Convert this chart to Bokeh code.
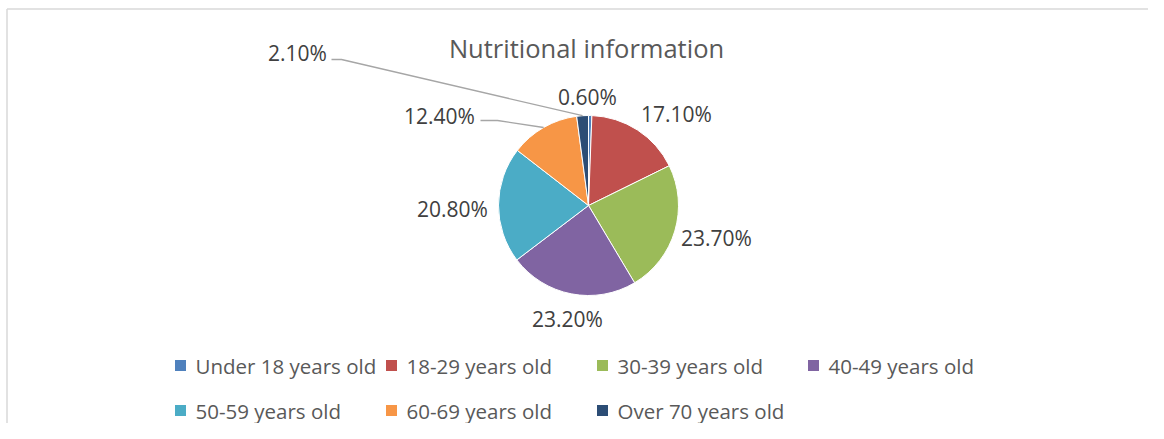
import math
from bokeh.plotting import figure
from bokeh.models import Range1d, ColumnDataSource
from bokeh.core.properties import value
from bokeh.embed import file_html
from bokeh.resources import INLINE

# ---- data ----
categories = ["Under 18 years old", "18-29 years old", "30-39 years old",
              "40-49 years old", "50-59 years old", "60-69 years old",
              "Over 70 years old"]
shares = [0.6, 17.1, 23.7, 23.2, 20.8, 12.4, 2.1]
labels = ["0.60%", "17.10%", "23.70%", "23.20%", "20.80%", "12.40%", "2.10%"]
colors = ["#4F81BD", "#C0504D", "#9BBB59", "#8064A2", "#4BACC6", "#F79646", "#2C4D75"]
title = "Nutritional information"

# ---- layout (reference pixels, y down) ----
W, H = 1148, 423
def X(px): return px
def Y(py): return H - py

cx, cy, R = 588, 205, 90
# label centre offsets from pie centre (px, y down)
label_off = [(-1, -109), (88, -92), (128, 32), (-21, 113), (-136, 3), (-149, -90), (-291, -153)]
# leader lines: index -> (start offset from label centre, elbow length)
leaders = {5: ((41, 5), 17), 6: ((34, 7), 10)}

p = figure(width=W, height=H, output_backend="svg", toolbar_location=None,
           x_range=Range1d(0, W), y_range=Range1d(0, H), min_border=0,
           outline_line_color=None, background_fill_color="white",
           border_fill_color="white")
p.axis.visible = False
p.grid.visible = False

# frame lines (left & top)
p.segment(x0=[X(6.5), X(6.5)], y0=[Y(H), Y(8.5)], x1=[X(6.5), X(W)], y1=[Y(8.5), Y(8.5)],
          line_color="#d9d9d9", line_width=1.5)

# pie
total = sum(shares)
starts, ends, mids = [], [], []
c = 0.0
for v in shares:
    a0 = math.pi / 2 - c / total * 2 * math.pi
    c += v
    a1 = math.pi / 2 - c / total * 2 * math.pi
    starts.append(a0); ends.append(a1); mids.append((a0 + a1) / 2)
src = ColumnDataSource(dict(start=starts, end=ends, color=colors, cat=categories, val=shares))
p.wedge(x=X(cx), y=Y(cy), radius=R, start_angle="start", end_angle="end",
        direction="clock", fill_color="color", line_color="white", line_width=1, source=src)

# leader lines
for i, ((sx, sy), el) in leaders.items():
    lx, ly = cx + label_off[i][0], cy + label_off[i][1]
    x0, y0 = lx + sx, ly + sy
    ex = cx + R * math.cos(mids[i])
    ey = cy - R * math.sin(mids[i])
    p.line([X(x0), X(x0 + el), X(ex)], [Y(y0), Y(y0), Y(ey)],
           line_color="#a6a6a6", line_width=1.3)

# data labels
p.text(x=[X(cx + o[0]) for o in label_off], y=[Y(cy + o[1]) for o in label_off],
       text=labels, text_font=value("Open Sans"), text_font_size="21px",
       text_color="#404040", text_align="center", text_baseline="middle")

# title
p.text(x=[X(586)], y=[Y(47)], text=[title], text_font=value("Open Sans"),
       text_font_size="25.5px", text_color="#595959", text_align="center",
       text_baseline="middle")

# legend
lx0, lcol, ly0, lrow, ncol = 180, 211, 365, 45, 4
sq_x = [X(lx0 + (i % ncol) * lcol) for i in range(len(categories))]
sq_y = [Y(ly0 + (i // ncol) * lrow) for i in range(len(categories))]
p.rect(x=sq_x, y=sq_y, width=11, height=11, fill_color=colors, line_color=None)
p.text(x=[x + 15 for x in sq_x], y=sq_y, text=categories, text_font=value("Open Sans"),
       text_font_size="20.5px", text_color="#595959", text_align="left",
       text_baseline="middle")

open("out.html", "w").write(file_html(p, INLINE))
